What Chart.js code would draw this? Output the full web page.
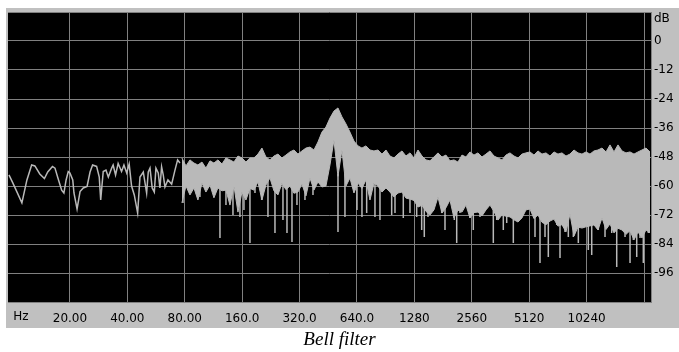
<!DOCTYPE html>
<html>
<head>
<meta charset="utf-8">
<script src="https://cdn.jsdelivr.net/npm/chart.js@4.4.0/dist/chart.umd.min.js"></script>
<style>
  html, body { margin: 0; padding: 0; background: #fff; }
  #wrap { position: relative; width: 679px; height: 352px; }
  #chart { display: block; }
  #caption { position: absolute; left: 0; top: 328px; width: 679px; text-align: center;
             font: italic 19px "Liberation Serif", serif; color: #000; }
</style>
</head>
<body>
<div id="wrap">
  <canvas id="chart" width="679" height="352"></canvas>
  <div id="caption">Bell filter</div>
</div>
<script>
// axis labels
var xUnit = 'Hz';
var yUnit = 'dB';
var xTicks = [20, 40, 80, 160, 320, 640, 1280, 2560, 5120, 10240, 20480];
var xTickLabels = ['20.00', '40.00', '80.00', '160.0', '320.0', '640.0', '1280', '2560', '5120', '10240', ''];
var yTicks = [-108, -96, -84, -72, -60, -48, -36, -24, -12, 0, 12];
var yTickLabels = ['', '-96', '-84', '-72', '-60', '-48', '-36', '-24', '-12', '0', ''];

// low end of the spectrum: a single trace (Hz / dB)
var traceFreq = [9.58, 10.05, 11.2, 11.9, 12.6, 13.1, 13.9, 14.7, 15.3, 16.2,
  16.7, 17.3, 18.1, 18.6, 19.1, 19.6, 20, 20.7, 21.0, 21.8,
  22.6, 23.5, 24.6, 25.5, 26.3, 27.6, 28.5, 29.0, 29.9, 30.9,
  31.8, 33.1, 33.7, 34.7, 35.8, 37.3, 38.4, 39.7, 40.9, 42.1,
  43.5, 45.3, 46.6, 48.5, 50.5, 51.5, 52.6, 54.0, 55.4, 56.5,
  58.1, 59.3, 60.5, 61.7, 63.0, 65.3, 68.3, 71.1, 73.4, 75.5];
var traceDb = [-55.4, -58.8, -67.0, -57.5, -51.3, -51.7, -55.0, -56.9, -54.2, -51.9,
  -52.6, -56.7, -61.7, -62.9, -57.5, -54.0, -54.6, -57.5, -62.9, -69.5,
  -62.3, -60.8, -60.2, -54.2, -51.3, -51.9, -56.3, -65.8, -54.0, -53.4,
  -56.3, -52.6, -51.3, -55.4, -50.7, -54.0, -51.3, -54.6, -50.9, -60.0,
  -63.7, -71.2, -56.3, -54.2, -62.9, -54.2, -52.6, -60.8, -62.5, -52.6,
  -54.6, -60.8, -52.1, -55.4, -60.4, -57.5, -59.2, -53.4, -49.2, -50.5];

// rest of the spectrum: max / min band
var bandFreq = [77.3, 81.2, 85.2, 89.4, 93.8, 98.5, 103.3, 108.5, 113.8, 119.4,
  125.4, 131.6, 138.1, 144.9, 152.1, 159.6, 167.5, 175.8, 184.5, 193.6,
  203.2, 213.2, 223.8, 234.9, 246.5, 258.7, 271.5, 284.9, 299.0, 313.8,
  329.4, 345.7, 362.8, 380.7, 399.6, 419.3, 440.1, 461.9, 484.7, 508.7,
  533.9, 560.3, 588.0, 617.1, 647.6, 679.7, 713.3, 748.6, 785.7, 824.6,
  865.4, 908.2, 953.1, 1000, 1050, 1102, 1156, 1214, 1274, 1337,
  1403, 1472, 1545, 1621, 1702, 1786, 1874, 1967, 2064, 2166,
  2274, 2386, 2504, 2628, 2758, 2895, 3038, 3188, 3346, 3512,
  3685, 3868, 4059, 4260, 4471, 4692, 4924, 5168, 5424, 5692,
  5974, 6270, 6580, 6905, 7247, 7606, 7982, 8377, 8792, 9227,
  9684, 10163, 10666, 11193, 11747, 12329, 12939, 13579, 14251, 14956,
  15697, 16473, 17288, 18144, 19041, 19984, 20973, 22011];
var bandMax = [-48.4, -51.7, -49.2, -50.5, -51.3, -50.1, -52.6, -49.6, -50.5, -49.2,
  -50.9, -48.4, -49.2, -50.1, -47.6, -48.4, -50.1, -48.4, -48.4, -46.8,
  -44.3, -48.0, -49.2, -47.6, -46.8, -48.4, -47.2, -45.9, -45.1, -46.8,
  -45.5, -44.3, -43.9, -45.1, -41.8, -37.7, -35.6, -31.9, -29.0, -27.7,
  -31.4, -34.3, -37.7, -41.4, -43.4, -44.3, -43.4, -45.1, -45.5, -45.1,
  -46.8, -45.1, -47.6, -48.4, -46.8, -45.5, -47.6, -46.3, -48.4, -45.1,
  -47.6, -49.2, -49.6, -48.0, -46.3, -48.0, -47.2, -49.6, -49.2, -50.1,
  -47.2, -48.0, -45.9, -47.2, -46.3, -48.0, -46.8, -45.5, -47.6, -48.4,
  -49.2, -47.2, -46.3, -47.6, -48.4, -46.8, -46.3, -45.9, -47.2, -45.5,
  -46.8, -46.3, -47.6, -45.9, -46.8, -46.3, -47.6, -46.8, -45.1, -46.3,
  -46.8, -45.9, -46.8, -45.5, -45.1, -44.3, -45.9, -43.0, -45.9, -43.0,
  -45.5, -46.3, -45.9, -46.8, -45.9, -45.1, -44.3, -45.9];
var bandMin = [-67.0, -60.0, -63.7, -60.8, -65.8, -58.8, -62.5, -59.6, -64.9, -60.8,
  -62.0, -61.7, -67.9, -60.0, -70.8, -62.5, -65.8, -61.0, -61.7, -58.3,
  -65.8, -59.6, -56.7, -62.0, -63.7, -58.8, -61.5, -60.0, -63.0, -62.5,
  -59.2, -64.1, -56.7, -61.7, -58.3, -60.4, -60.0, -51.3, -41.0, -56.0,
  -45.1, -60.0, -56.7, -62.9, -58.8, -61.0, -57.5, -65.8, -58.8, -60.0,
  -62.5, -60.8, -62.5, -64.5, -62.9, -62.5, -65.0, -65.4, -66.0, -68.7,
  -68.0, -70.5, -72.0, -69.9, -64.6, -71.2, -69.0, -65.8, -73.2, -70.0,
  -70.8, -67.9, -73.2, -71.0, -70.8, -72.4, -69.9, -67.9, -70.5, -74.1,
  -72.0, -72.5, -72.8, -74.0, -74.9, -73.2, -69.9, -69.5, -73.5, -72.0,
  -75.0, -76.0, -74.5, -73.7, -76.6, -76.0, -79.0, -71.6, -80.7, -77.0,
  -77.4, -76.9, -76.5, -76.1, -78.2, -73.2, -78.0, -75.7, -79.4, -77.5,
  -78.2, -80.0, -78.5, -82.3, -79.0, -81.5, -78.2, -79.4];

// deep single-bin dips below the band (Hz / dB)
var dipFreq = [78.3, 96.1, 122.4, 131.6, 143.2, 155.8, 163.5, 175.8, 186.8, 202.5,
  218.5, 237.8, 261.9, 274.9, 292.0, 310.1, 341.6, 376.3, 508.9, 553.6,
  640, 679.8, 719.5, 795.3, 845.0, 973.2, 1012.8, 1119.6, 1213.8, 1316,
  1397.9, 1442.6, 1508.3, 1780, 1852.4, 2072.6, 2133.6, 2220.2, 2505, 2606.9,
  2826.5, 3319.6, 3458.6, 3745.3, 3902.2, 4226.6, 5491.2, 5832.7, 6196.7, 6448.1,
  7136.3, 7426.6, 7889.2, 8210.4, 8721.5, 9264.1, 10452, 10890, 11794, 12788,
  13866, 14729, 16284, 17297, 18000, 18753, 19515, 20307, 21571];
var dipDb = [-67.0, -64.6, -81.5, -67.9, -72.0, -72.8, -69.9, -83.6, -62.9, -65.8,
  -72.8, -79.4, -74.1, -79.4, -83.2, -67.9, -65.8, -63.7, -79.0, -72.8,
  -69.9, -72.8, -71.2, -72.8, -74.1, -72.0, -71.2, -73.2, -71.2, -72.8,
  -78.2, -81.1, -72.8, -71.2, -78.2, -74.1, -83.6, -71.2, -73.2, -78.2,
  -72.8, -83.6, -74.1, -78.2, -75.3, -83.6, -81.1, -91.9, -81.1, -89.4,
  -76.1, -89.8, -79.0, -81.1, -81.1, -83.6, -86.5, -88.6, -78.2, -81.1,
  -79.4, -93.5, -81.1, -91.9, -82.3, -89.4, -81.5, -91.9, -79.4];

function pts(xs, ys) {
  return xs.map(function (x, i) { return { x: x, y: ys[i] }; });
}

// each dip is a vertical stroke hanging from inside the band
function dips(xs, ys) {
  var out = [];
  xs.forEach(function (x, i) {
    out.push({ x: x, y: -55 }, { x: x, y: ys[i] }, { x: x, y: null });
  });
  return out;
}

var traceColor = '#b9b9b9';
var gridColor = '#808080';
var labelFont = { family: 'DejaVu Sans', size: 12 };

// grey panel, black plot area and the two unit labels
var panel = {
  id: 'panel',
  beforeDraw: function (chart) {
    var ctx = chart.ctx, a = chart.chartArea;
    ctx.save();
    ctx.fillStyle = '#c0c0c0';
    ctx.fillRect(6, 8, 673, 320);
    ctx.fillStyle = '#000';
    ctx.fillRect(a.left, a.top, a.right - a.left, a.bottom - a.top);
    ctx.restore();
  },
  afterDraw: function (chart) {
    var ctx = chart.ctx;
    ctx.save();
    ctx.fillStyle = '#000';
    ctx.font = '12px "DejaVu Sans"';
    ctx.textBaseline = 'middle';
    ctx.textAlign = 'left';
    ctx.fillText(yUnit, chart.chartArea.right + 3, 19);
    ctx.textAlign = 'center';
    ctx.fillText(xUnit, 21, 317);
    ctx.restore();
  }
};

var chart = new Chart(document.getElementById('chart'), {
  type: 'line',
  data: {
    datasets: [
      {
        label: 'Spectrum',
        data: pts(traceFreq, traceDb),
        borderColor: traceColor,
        borderWidth: 1.5,
        pointRadius: 0,
        fill: false
      },
      {
        label: 'Minimum',
        data: pts(bandFreq, bandMin),
        borderColor: traceColor,
        borderWidth: 1,
        pointRadius: 0,
        fill: false
      },
      {
        label: 'Maximum',
        data: pts(bandFreq, bandMax),
        borderColor: traceColor,
        backgroundColor: traceColor,
        borderWidth: 1,
        pointRadius: 0,
        fill: '-1'
      },
      {
        label: 'Dips',
        data: dips(dipFreq, dipDb),
        borderColor: traceColor,
        borderWidth: 1.5,
        pointRadius: 0,
        spanGaps: false,
        fill: false
      }
    ]
  },
  options: {
    responsive: false,
    animation: false,
    devicePixelRatio: 1,
    layout: { padding: { left: 8, top: 12, right: 0, bottom: 0 } },
    elements: { line: { tension: 0 } },
    plugins: {
      legend: { display: false },
      tooltip: { enabled: false }
    },
    scales: {
      x: {
        type: 'logarithmic',
        min: 9.47,
        max: 22280,
        afterBuildTicks: function (s) { s.ticks = xTicks.map(function (v) { return { value: v }; }); },
        afterFit: function (s) { s.height = 50; },
        grid: { color: gridColor, drawTicks: false },
        border: { display: true, color: gridColor },
        ticks: {
          autoSkip: false,
          maxRotation: 0,
          padding: 10,
          color: '#000',
          font: labelFont,
          callback: function (v, i) { return xTickLabels[i]; }
        }
      },
      y: {
        position: 'right',
        min: -108,
        max: 12,
        afterBuildTicks: function (s) { s.ticks = yTicks.map(function (v) { return { value: v }; }); },
        afterFit: function (s) { s.width = 28; },
        grid: { color: gridColor, drawTicks: false },
        border: { display: true, color: gridColor },
        ticks: {
          padding: 3,
          color: '#000',
          font: labelFont,
          callback: function (v, i) { return yTickLabels[i]; }
        }
      }
    }
  },
  plugins: [panel]
});
</script>
</body>
</html>
